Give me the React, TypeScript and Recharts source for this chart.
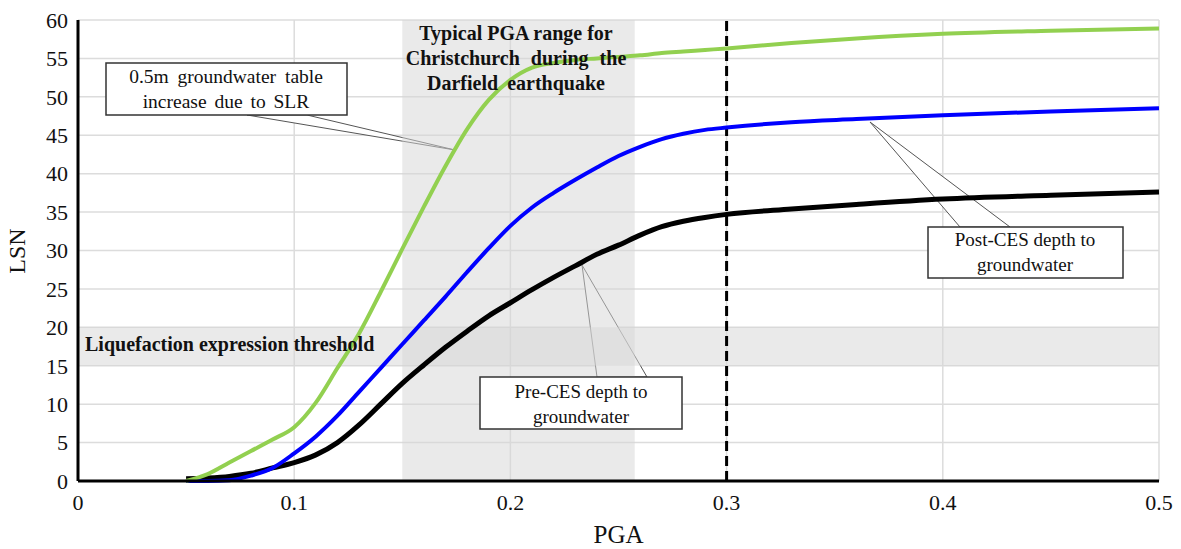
import { LineChart, Line, XAxis, YAxis, CartesianGrid, ReferenceArea, ReferenceLine, Label } from 'recharts'

// PGA sample points (g) shared by the three curves
const pga = [0.05, 0.06, 0.07, 0.08, 0.09, 0.1, 0.11, 0.12, 0.13, 0.14, 0.15, 0.16, 0.17, 0.18, 0.19, 0.2, 0.21, 0.22, 0.23, 0.24, 0.25, 0.26, 0.27, 0.28, 0.29, 0.3, 0.33, 0.36, 0.4, 0.45, 0.5]

// LSN with 0.5m groundwater table rise (green)
const slrRise = [0, 0.9, 2.4, 3.9, 5.4, 7.0, 10.2, 14.7, 19.2, 24.6, 30.2, 35.7, 41.0, 45.8, 49.6, 52.2, 53.8, 54.4, 54.8, 55.0, 55.2, 55.4, 55.7, 55.9, 56.1, 56.3, 57.0, 57.6, 58.2, 58.6, 58.9]
// LSN post-CES depth to groundwater (blue)
const postCes = [0, 0, 0.1, 0.7, 1.7, 3.6, 5.8, 8.5, 11.6, 14.7, 17.8, 20.9, 24.0, 27.2, 30.3, 33.2, 35.6, 37.5, 39.2, 40.8, 42.3, 43.5, 44.5, 45.2, 45.7, 46.0, 46.7, 47.1, 47.6, 48.1, 48.5]
// LSN pre-CES depth to groundwater (black)
const preCes = [0.3, 0.4, 0.6, 1.0, 1.7, 2.4, 3.4, 5.0, 7.3, 10.0, 12.7, 15.1, 17.4, 19.5, 21.5, 23.2, 24.9, 26.5, 28.0, 29.5, 30.7, 32.0, 33.1, 33.8, 34.3, 34.7, 35.4, 36.0, 36.7, 37.2, 37.6]

const xTicks = [0, 0.1, 0.2, 0.3, 0.4, 0.5]
const yTicks = [0, 5, 10, 15, 20, 25, 30, 35, 40, 45, 50, 55, 60]

const darfieldRange = [0.15, 0.2575]
const thresholdRange = [15, 20]
const pgaMarker = 0.3

const data = pga.map((x, i) => ({ pga: x, slr: slrRise[i], post: postCes[i], pre: preCes[i] }))

const W = 1181
const H = 549
const serif = '"Liberation Serif", "Times New Roman", serif'

// callout pointer wedges (pixel positions on the canvas)
const tails = [
  '247,115 455,150 307,115',
  '960,227 870,122 1010,227',
  '597,377 582,265 647,377',
]

function Overlay() {
  const box = { fill: '#fff', stroke: '#333', strokeWidth: 1.5 }
  return (
    <svg width={W} height={H} style={{ position: 'absolute', left: 0, top: 0, pointerEvents: 'none' }} fontFamily={serif}>
      <text x={17} y={251} fontSize={24} fill="#111" textAnchor="middle" dominantBaseline="central" transform="rotate(-90 17 251)">LSN</text>

      <g fontWeight="bold" fontSize={20} fill="#111" textAnchor="middle">
        <text x={516} y={40}>Typical PGA range for</text>
        <text x={516} y={65} wordSpacing={6}>Christchurch during the</text>
        <text x={516} y={90} wordSpacing={4}>Darfield earthquake</text>
      </g>
      <text x={85} y={351} fontWeight="bold" fontSize={20} fill="#111">Liquefaction expression threshold</text>

      <rect x={106} y={63} width={241} height={52} {...box} />
      <g fontSize={19.5} fill="#111" textAnchor="middle">
        <text x={226} y={83} wordSpacing={4}>0.5m groundwater table</text>
        <text x={226} y={108} wordSpacing={3}>increase due to SLR</text>
      </g>

      <rect x={928} y={227} width={195} height={51} {...box} />
      <g fontSize={19} fill="#111" textAnchor="middle">
        <text x={1025} y={246}>Post-CES depth to</text>
        <text x={1025} y={271}>groundwater</text>
      </g>

      <rect x={480} y={377} width={202} height={52} {...box} />
      <g fontSize={19} fill="#111" textAnchor="middle">
        <text x={581} y={398}>Pre-CES depth to</text>
        <text x={581} y={423}>groundwater</text>
      </g>
    </svg>
  )
}

export default function App() {
  return (
    <div style={{ position: 'absolute', left: 0, top: 0, width: W, height: H, background: '#fff' }}>
      <LineChart width={W} height={H} data={data} margin={{ top: 20, right: 22, bottom: 8, left: 0 }}>
        <CartesianGrid stroke="#dcdcdc" strokeWidth={1.5} />
        <ReferenceArea x1={darfieldRange[0]} x2={darfieldRange[1]} y1={0} y2={60} fill="#d6d6d6" fillOpacity={0.5} stroke="none" />
        <ReferenceArea x1={0} x2={0.5} y1={thresholdRange[0]} y2={thresholdRange[1]} fill="#d6d6d6" fillOpacity={0.5} stroke="none" />
        <XAxis
          dataKey="pga"
          type="number"
          domain={[0, 0.5]}
          ticks={xTicks}
          height={60}
          tickLine={false}
          tickSize={6}
          tickMargin={7}
          axisLine={{ stroke: '#000', strokeWidth: 3 }}
          tick={{ fontFamily: serif, fontSize: 22, fill: '#111' }}
        >
          <Label value="PGA" position="insideBottom" offset={-2} style={{ fontFamily: serif, fontSize: 25, fill: '#111' }} />
        </XAxis>
        <YAxis
          type="number"
          domain={[0, 60]}
          ticks={yTicks}
          width={78}
          tickLine={false}
          tickSize={6}
          tickMargin={4}
          axisLine={{ stroke: '#000', strokeWidth: 3 }}
          tick={{ fontFamily: serif, fontSize: 22, fill: '#111' }}
        />
        <g>
          {tails.map((p) => (
            <polygon key={p} points={p} fill="#fff" stroke="#555" strokeWidth={1} />
          ))}
        </g>
        <ReferenceLine x={pgaMarker} stroke="#000" strokeWidth={3} strokeDasharray="10 5" />
        <Line type="monotone" dataKey="pre" stroke="#000" strokeWidth={5} dot={false} isAnimationActive={false} />
        <Line type="monotone" dataKey="post" stroke="#0000ff" strokeWidth={4} dot={false} isAnimationActive={false} />
        <Line type="monotone" dataKey="slr" stroke="#92d050" strokeWidth={4} dot={false} isAnimationActive={false} />
      </LineChart>
      <Overlay />
    </div>
  )
}
